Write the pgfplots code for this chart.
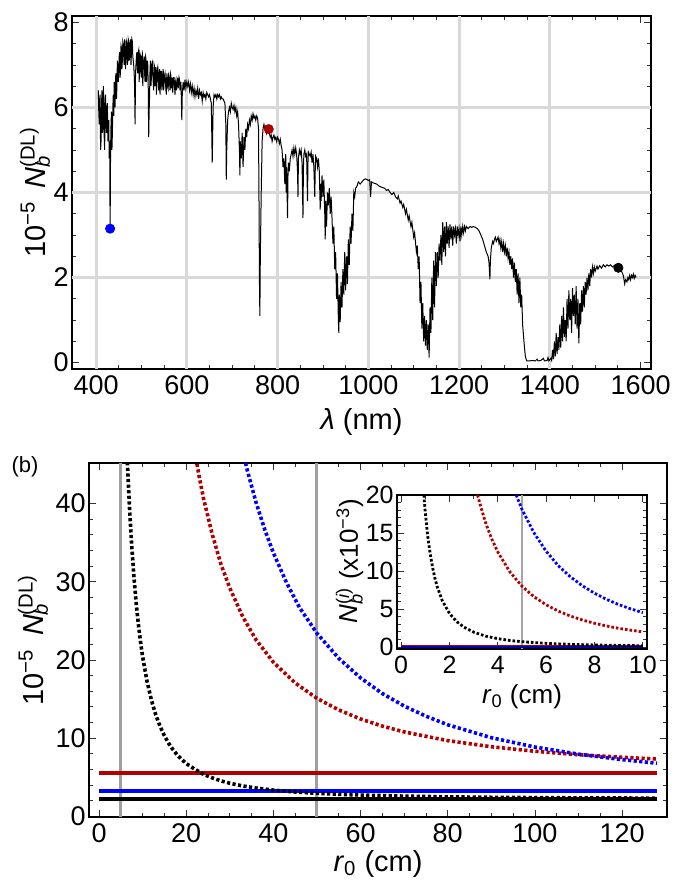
\documentclass[border=0pt]{standalone}
\usepackage{pgfplots}
\pgfplotsset{compat=1.18}
\usepackage{fontspec}
\setmainfont{Liberation Sans}
\definecolor{dred}{RGB}{178,0,0}
\definecolor{gridgray}{gray}{0.85}
\newcommand{\Nb}[1]{\textit{N}\makebox[0pt][l]{\textsubscript{\textit{b}}}\textsuperscript{(#1)}}
\begin{document}
\begin{tikzpicture}
\useasboundingbox (0,0) rectangle (340pt,441pt);
\pgfplotsset{
  every axis/.append style={
    scale only axis,
    axis line style={black, line width=0.8pt},
    tick style={black!80, line width=0.4pt},
    major tick length=3.5pt, minor tick length=2pt,
    tick align=inside,
    /pgf/number format/assume math mode=true,
    /pgf/number format/1000 sep={},
    scaled ticks=false,
    tick label style={font=\fontsize{13.5}{15}\selectfont},
    label style={font=\fontsize{14.5}{16}\selectfont},
    yticklabel style={inner sep=1.5pt},
  }
}
% ---------------- top panel ----------------
\begin{axis}[
  at={(36pt,256.5pt)}, anchor=south west,
  width=289.5pt, height=176.5pt,
  xmin=347, xmax=1623, ymin=-0.15, ymax=8.15,
  xtick={400,600,...,1600}, ytick={0,2,...,8},
  minor x tick num=3, minor y tick num=3,
  extra x ticks={400,600,...,1400}, extra x tick labels={},
  extra y ticks={2,4,6}, extra y tick labels={},
  extra tick style={grid=major, major tick length=0pt},
  major grid style={gridgray, line width=1.5pt},
  xlabel={\textit{λ} (nm)},
  ylabel={10\textsuperscript{−5}\hspace{0.45em}\Nb{DL}},
  xlabel style={at={(axis description cs:0.5,-0.15)}, anchor=center},
  ylabel style={at={(axis description cs:-0.064,0.5)}, anchor=center},
]
\addplot[black, line width=0.5pt] coordinates {
(405,6.4)(406,5.9)(407,5.6)(408,6.2)(409,6.3)(410,5.0)(411,5.2)(412,6.0)(413,6.4)(414,5.4)(415,5.5)(416,6.5)(417,6.1)(418,5.3)(419,5.0)(420,6.2)
(421,6.3)(422,5.6)(423,5.4)(424,6.0)(425,6.1)(426,5.2)(427,5.5)(428,5.7)(429,4.8)(430,5.2)(431,3.15)(432,5.0)(433,5.6)(434,5.9)(435,5.0)(436,5.4)
(437,6.0)(438,6.3)(439,5.8)(440,6.6)(441,6.3)(442,6.0)(443,6.7)(444,6.8)(445,6.2)(446,6.5)(447,7.1)(448,7.0)(449,6.6)(450,6.8)(451,7.2)(452,7.3)
(453,6.7)(454,6.9)(455,7.45)(456,7.4)(457,6.9)(458,7.1)(459,7.55)(460,7.5)(461,7.2)(462,7.0)(463,7.6)(464,7.4)(465,6.9)(466,7.2)(467,7.55)(468,7.5)
(469,7.0)(470,7.1)(471,7.6)(472,7.55)(473,7.1)(474,7.2)(475,7.5)(476,7.6)(477,7.0)(478,7.3)(479,7.6)(480,7.55)(481,7.2)(482,7.1)(483,7.0)(484,6.8)
(485,6.5)(486,5.6)(487,6.8)(488,7.0)(489,7.2)(490,7.3)(491,6.9)(492,6.8)(493,7.3)(494,7.35)(495,6.6)(496,6.9)(497,7.25)(498,7.2)(499,6.8)(500,6.7)
(501,7.2)(502,7.25)(503,6.5)(504,6.9)(505,7.1)(506,7.2)(507,6.8)(508,6.6)(509,7.2)(510,7.15)(511,6.6)(512,6.8)(513,7.1)(514,7.0)(515,6.5)(516,5.3)
(517,5.9)(518,6.3)(519,6.9)(520,7.1)(521,6.5)(522,6.7)(523,7.0)(524,7.05)(525,6.8)(526,6.6)(527,6.4)(528,7.0)(529,6.95)(530,6.5)(531,6.7)(532,6.95)
(533,6.3)(534,6.7)(535,6.9)(536,6.95)(537,6.6)(538,6.4)(539,6.8)(540,6.9)(541,6.3)(542,6.6)(543,6.85)(544,6.85)(545,6.4)(546,6.5)(547,6.8)(548,6.9)
(549,6.4)(550,6.6)(551,6.75)(552,6.8)(553,6.6)(554,6.4)(555,6.3)(556,6.8)(557,6.7)(558,6.5)(559,6.45)(560,6.75)(561,6.7)(562,6.6)(563,6.4)(564,6.8)
(565,6.75)(566,6.45)(567,6.6)(568,6.7)(569,6.35)(570,6.55)(571,6.7)(572,6.7)(573,6.5)(574,6.3)(575,6.6)(576,6.65)(577,6.4)(578,6.5)(579,6.6)(580,6.7)
(581,6.45)(582,6.55)(583,6.7)(584,6.65)(585,6.4)(586,6.5)(587,6.6)(588,6.2)(589,5.7)(590,6.3)(592,6.6)(594,6.4)(596,6.65)
(598,6.45)(600,6.6)(602,6.5)(604,6.6)(606,6.4)(608,6.55)(610,6.35)(612,6.5)(614,6.3)(616,6.45)
(618,6.25)(620,6.4)(622,6.3)(624,6.45)(626,6.2)(628,6.4)(630,6.3)(632,6.35)(634,6.15)(636,6.35)
(638,6.25)(640,6.3)(642,6.2)(644,6.35)(646,6.3)(648,6.25)(650,6.3)(652,6.2)(654,6.1)(656,4.7)
(658,6.0)(660,6.3)(662,6.25)(664,6.3)(666,6.2)(668,6.3)(670,6.25)(672,6.3)(674,6.2)(676,6.25)
(678,6.2)(680,6.2)(684,6.1)(686,5.6)(687,4.3)(688,5.0)(690,5.7)(692,5.9)(694,6.0)(696,5.9)
(698,6.1)(700,6.0)(702,5.95)(704,6.05)(706,5.9)(708,6.0)(710,5.8)(712,5.9)(714,5.6)(716,5.0)
(717,4.4)(718,5.2)(720,4.8)(722,5.4)(724,4.6)(726,5.3)(728,5.0)(730,5.5)(732,5.3)(734,5.6)
(736,5.5)(738,5.7)(740,5.6)(742,5.8)(744,5.7)(746,5.85)(748,5.75)(750,5.8)(752,5.7)(754,5.8)
(756,5.75)(758,5.5)(759,4.0)(760,2.0)(761,1.1)(762,2.5)(764,4.0)(766,5.2)(768,5.5)(770,5.6)
(772,5.5)(774,5.55)(776,5.4)(778,5.5)(780,5.5)(782,5.4)(784,5.3)(786,5.35)(788,5.2)(790,5.3)
(792,5.35)(794,5.25)(796,5.3)(798,5.2)(800,5.3)(802,5.25)(804,5.15)(806,5.25)(808,5.1)(810,5.0)
(812,4.6)(814,4.8)(816,4.2)(818,4.9)(819,4.0)(820,4.6)(822,3.4)(823,4.4)(824,4.7)(826,4.5)
(828,4.8)(830,4.9)(832,5.0)(834,4.85)(836,5.05)(838,4.9)(840,5.05)(842,4.9)(844,4.5)(845,3.9)
(846,4.8)(848,5.0)(850,4.9)(852,5.0)(854,4.7)(856,3.4)(857,4.6)(858,4.9)(860,5.0)(862,4.85)
(864,4.9)(866,3.8)(867,4.7)(868,4.95)(870,4.9)(872,4.85)(874,4.95)(876,4.7)(878,4.9)(880,4.6)
(882,3.9)(883,4.5)(884,4.85)(886,4.8)(888,4.6)(890,4.8)(892,4.5)(894,3.6)(895,4.2)(896,3.8)
(898,4.4)(900,3.9)(902,4.3)(904,3.5)(905,2.9)(906,3.8)(908,3.2)(910,4.0)(912,3.7)(914,4.1)
(916,3.5)(918,3.9)(920,3.4)(922,2.8)(924,3.2)(926,2.2)(928,2.6)(930,1.5)(932,2.1)(934,1.0)
(935,0.7)(936,1.6)(938,0.95)(940,1.9)(942,1.3)(944,2.2)(946,1.6)(948,2.6)(950,1.7)(952,2.5)
(954,1.85)(956,2.9)(958,2.3)(960,3.2)(962,2.8)(964,3.5)(966,3.1)(968,4.0)(970,3.9)(972,4.1)
(975,4.15)(978,4.25)(982,4.2)(986,4.25)(990,4.3)(994,4.32)(998,4.3)(1000,4.28)(1003,4.3)(1005,3.9)
(1007,4.25)(1012,4.22)(1018,4.2)(1024,4.15)(1030,4.12)(1036,4.1)(1040,4.05)(1044,4.07)(1048,4.0)(1052,3.95)
(1056,4.0)(1060,3.9)(1064,3.85)(1066,3.92)(1070,3.75)(1072,3.8)(1076,3.65)(1078,3.72)(1082,3.5)(1084,3.6)
(1088,3.35)(1090,3.45)(1094,3.2)(1096,3.3)(1100,2.95)(1102,3.05)(1106,2.6)(1108,2.75)(1110,2.2)(1112,2.5)
(1114,1.4)(1116,1.9)(1118,0.8)(1120,1.4)(1122,0.5)(1124,1.1)(1126,0.4)(1128,1.0)(1130,0.3)(1132,0.9)
(1134,0.12)(1136,1.3)(1138,0.7)(1140,2.0)(1142,1.0)(1144,2.4)(1146,1.3)(1148,2.6)(1150,1.8)(1152,2.6)
(1154,2.0)(1156,2.8)(1158,2.4)(1160,3.0)(1162,2.3)(1164,3.3)(1166,2.6)(1168,3.2)(1170,2.5)(1172,3.3)
(1174,2.8)(1176,3.2)(1178,2.7)(1180,3.25)(1182,2.9)(1184,3.2)(1186,2.75)(1188,3.2)(1190,3.0)(1192,3.15)
(1194,2.8)(1196,3.2)(1198,3.0)(1200,3.15)(1202,2.85)(1204,3.2)(1206,3.0)(1208,3.2)(1210,3.05)(1212,3.2)
(1214,3.1)(1216,3.2)(1220,3.15)(1224,3.2)(1228,3.18)(1232,3.2)(1236,3.18)(1240,3.15)(1244,3.1)(1248,3.0)
(1252,2.9)(1256,2.75)(1260,2.6)(1264,2.5)(1266,2.35)(1268,1.96)(1269,2.4)(1271,2.7)(1274,2.85)(1276,2.8)
(1278,2.9)(1280,2.95)(1282,2.85)(1284,2.9)(1286,2.95)(1288,2.8)(1290,2.9)(1292,2.7)(1294,2.85)(1296,2.6)
(1298,2.8)(1300,2.6)(1302,2.75)(1304,2.5)(1306,2.7)(1308,2.45)(1310,2.6)(1312,2.3)(1314,2.5)(1316,2.2)
(1318,2.45)(1320,2.0)(1322,2.35)(1324,1.9)(1326,2.2)(1328,1.6)(1330,2.1)(1332,1.4)(1334,2.0)(1336,1.3)
(1338,1.6)(1340,0.9)(1343,0.5)(1346,0.15)(1349,0.04)(1355,0.04)(1362,0.05)(1368,0.04)(1372,0.08)(1374,0.04)
(1380,0.05)(1386,0.1)(1388,0.04)(1394,0.05)(1396,0.12)(1398,0.04)(1402,0.1)(1404,0.05)(1406,0.3)(1408,0.08)
(1410,0.5)(1412,0.15)(1414,0.7)(1416,0.2)(1418,0.6)(1420,0.3)(1422,0.9)(1424,0.35)(1426,1.1)(1428,0.5)
(1430,1.3)(1432,0.6)(1434,1.0)(1436,0.5)(1438,1.5)(1440,0.8)(1442,1.7)(1444,1.0)(1446,1.5)(1448,0.7)
(1450,1.75)(1452,1.1)(1454,1.6)(1456,0.9)(1458,1.8)(1460,0.8)(1462,1.5)(1464,0.45)(1466,1.4)(1468,0.9)
(1470,1.7)(1472,1.2)(1474,1.8)(1476,1.3)(1478,1.9)(1480,1.6)(1482,2.0)(1484,1.7)(1486,2.1)(1488,1.8)
(1490,2.2)(1492,2.0)(1494,2.25)(1496,2.1)(1498,2.25)(1500,2.15)(1504,2.27)(1506,2.2)(1510,2.28)(1514,2.22)
(1518,2.3)(1522,2.25)(1526,2.3)(1530,2.27)(1534,2.3)(1538,2.25)(1542,2.28)(1546,2.25)(1550,2.25)(1554,2.2)
(1558,2.15)(1562,2.05)(1565,1.85)(1567,1.95)(1570,1.9)(1572,2.0)(1574,1.95)(1576,2.05)(1578,1.95)(1580,2.05)
(1582,2.0)(1584,2.08)(1586,1.98)(1588,2.05)(1590,2.0)
};
\addplot[only marks, mark=*, mark size=2.3pt, blue] coordinates {(431,3.15)};
\addplot[only marks, mark=*, mark size=2.3pt, dred] coordinates {(780.6,5.49)};
\addplot[only marks, mark=*, mark size=2.3pt, black] coordinates {(1551,2.23)};
\end{axis}
% ---------------- bottom panel ----------------
\begin{axis}[
  at={(44.5pt,32.5pt)}, anchor=south west,
  width=289pt, height=177pt,
  xmin=-2.3, xmax=130.3, ymin=-0.1, ymax=45.2,
  xtick={0,20,...,120}, ytick={0,10,...,40},
  minor x tick num=3, minor y tick num=4,
  xlabel={\textit{r}\textsubscript{0} (cm)},
  ylabel={10\textsuperscript{−5}\hspace{0.45em}\Nb{DL}},
  xlabel style={at={(axis description cs:0.5,-0.133)}, anchor=center},
  ylabel style={at={(axis description cs:-0.097,0.5)}, anchor=center},
]
\addplot[gray!75, line width=1.5pt] coordinates {(5,-0.1)(5,45.2)};
\addplot[gray!75, line width=1.5pt] coordinates {(50,-0.1)(50,45.2)};
\addplot[dred, line width=2pt] coordinates {(0,5.53)(128,5.53)};
\addplot[blue, line width=2pt] coordinates {(0,3.19)(128,3.19)};
\addplot[black, line width=2pt] coordinates {(0,2.21)(128,2.21)};
\addplot[black, line width=1.8pt, dash pattern=on 1.6pt off 1.2pt] coordinates {
(6.2,49.6)(6.5,45.3)(7,39.4)(7.5,34.6)(8,30.7)(8.5,27.4)(9,24.7)(9.5,22.4)(10,20.4)(11,17.3)
(12,14.9)(13,13.0)(14,11.5)(15,10.3)(16,9.3)(17,8.5)(18,7.8)(19,7.25)(20,6.75)(22,6.0)
(24,5.36)(26,4.9)(28,4.52)(30,4.22)(33,3.87)(36,3.61)(40,3.34)(45,3.1)(50,2.93)(55,2.8)
(60,2.71)(70,2.57)(80,2.48)(90,2.42)(100,2.38)(110,2.35)(120,2.33)(128,2.31)};
\addplot[dred, line width=1.8pt, dash pattern=on 1.6pt off 1.2pt] coordinates {
(22,46.5)(23,43.4)(24,40.6)(26,36.0)(28,32.2)(30,29.2)(33,25.5)(36,22.6)(40,19.7)(45,17.05)
(50,15.08)(55,13.6)(60,12.44)(65,11.53)(70,10.79)(80,9.67)(90,8.89)(100,8.31)(110,7.87)(120,7.54)(128,7.32)};
\addplot[blue, line width=1.8pt, dash pattern=on 1.6pt off 1.2pt] coordinates {
(33,46.6)(34,44.3)(36,40.2)(38,36.7)(40,33.7)(43,29.9)(46,26.7)(50,23.4)(55,20.2)(60,17.7)
(65,15.7)(70,14.1)(75,12.8)(80,11.7)(90,10.05)(100,8.85)(110,7.94)(120,7.24)(128,6.78)};
\end{axis}
% ---------------- inset ----------------
\begin{axis}[
  at={(198.5pt,116.5pt)}, anchor=south west,
  width=125pt, height=77pt,
  axis background/.style={fill=white},
  axis line style={black, line width=1.2pt},
  xmin=-0.17, xmax=10.17, ymin=-0.25, ymax=20,
  xtick={0,2,...,10}, ytick={0,5,...,20},
  minor x tick num=1, minor y tick num=4,
  tick label style={font=\fontsize{12.5}{14}\selectfont},
  label style={font=\fontsize{13}{15}\selectfont},
  xlabel={\textit{r}\textsubscript{0} (cm)},
  ylabel={\Nb{\textit{i}} (x10\textsuperscript{−3})},
  xlabel style={at={(axis description cs:0.5,-0.31)}, anchor=center},
  ylabel style={at={(axis description cs:-0.19,0.57)}, anchor=center},
]
\addplot[gray!70, line width=0.6pt] coordinates {(5,-0.25)(5,20)};
\addplot[dred, line width=1.2pt] coordinates {(0,0.055)(10,0.055)};
\addplot[blue!70!black, line width=1.2pt] coordinates {(0,0.03)(10,0.03)};
\addplot[black, line width=1.4pt, dash pattern=on 1.3pt off 1pt] coordinates {
(0.94,20.0)(1.0,17.7)(1.1,14.6)(1.2,12.3)(1.3,10.5)(1.4,9.03)(1.5,7.87)(1.7,6.12)(2.0,4.43)(2.3,3.35)
(2.6,2.62)(3.0,1.97)(3.5,1.44)(4,1.11)(4.5,0.87)(5,0.71)(6,0.49)(7,0.36)(8,0.28)(9,0.22)(10,0.18)};
\addplot[dred, line width=1.4pt, dash pattern=on 1.3pt off 1pt] coordinates {
(3.16,20.0)(3.3,18.4)(3.5,16.3)(3.75,14.2)(4,12.5)(4.5,9.88)(5,8.0)(5.5,6.61)(6,5.56)(6.5,4.73)
(7,4.08)(7.5,3.56)(8,3.13)(8.5,2.77)(9,2.47)(9.5,2.22)(10,2.0)};
\addplot[blue, line width=1.4pt, dash pattern=on 1.3pt off 1pt] coordinates {
(4.76,20.0)(5,18.1)(5.5,15.0)(6,12.6)(6.5,10.7)(7,9.24)(7.5,8.05)(8,7.08)(8.5,6.27)(9,5.59)(9.5,5.02)(10,4.53)};
\end{axis}
\node[font=\fontsize{11}{13}\selectfont] at (12.5pt,207.5pt) {(b)};
\end{tikzpicture}
\end{document}
